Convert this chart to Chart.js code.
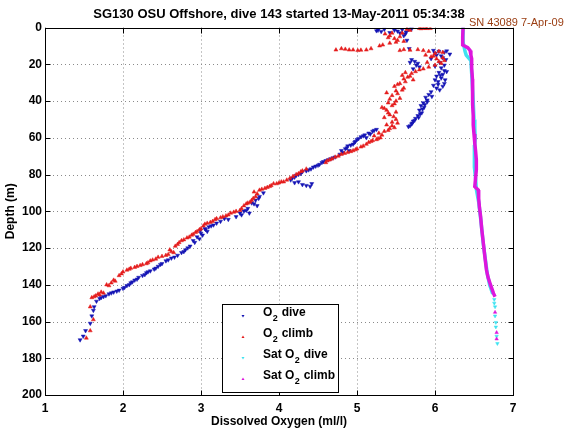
<!DOCTYPE html>
<html lang="en">
<head>
  <meta charset="UTF-8" />
  <title>SG130 dive 143 dissolved oxygen</title>
  <script src="https://cdn.jsdelivr.net/npm/chart.js"></script>
  <style>
    html, body { margin: 0; padding: 0; background: #ffffff; }
    #wrap { width: 570px; height: 430px; position: relative; }
  </style>
</head>
<body>
  <div id="wrap"><canvas id="o2Chart"></canvas></div>

  <script>
    const titleText = "SG130 OSU Offshore, dive 143 started 13-May-2011 05:34:38";
    const serialText = "SN 43089 7-Apr-09";
    const seriesNames = ["O\u2082 dive", "O\u2082 climb", "Sat O\u2082 dive", "Sat O\u2082 climb"];
    const xTicks = [1, 2, 3, 4, 5, 6, 7];
    const depthTicks = [0, 20, 40, 60, 80, 100, 120, 140, 160, 180, 200];

    // O2 dive (blue, down triangles)
    const diveO2 = [5.27, 5.31, 5.25, 5.48, 5.52, 5.58, 5.63, 5.55, 5.66, 5.60, 5.64, 5.67,
      5.98, 6.05, 6.12, 6.19, 6.02, 6.10, 5.95, 5.70, 5.74, 5.78, 5.80, 5.72,
      6.08, 6.12, 6.05, 6.10, 6.02, 6.08, 6.00, 6.04, 6.12, 5.98, 6.02, 6.06, 5.95, 5.92,
      5.88, 5.90, 5.85, 5.82, 5.86, 5.80, 5.83, 5.78, 5.75, 5.72, 5.70, 5.68,
      5.25, 5.20, 5.15, 5.10, 5.05, 5.12, 5.00, 4.97, 4.95, 4.88, 4.85, 4.90, 4.82,
      4.72, 4.66, 4.60, 4.55, 4.50, 4.44, 4.38, 4.30, 4.25, 4.20, 4.15, 4.20, 4.30, 4.40,
      3.75, 3.70, 3.65, 3.72, 3.60, 3.55, 3.62, 3.52, 3.30, 3.25,
      3.16, 3.10, 3.05, 2.99, 3.08, 3.02, 2.98, 2.92, 2.86, 2.80, 2.75, 2.70, 2.62, 2.55,
      2.50, 2.45, 2.40, 2.35, 2.30, 2.25, 2.20, 2.15, 2.10, 2.05, 2.00, 1.95, 1.88, 1.82,
      1.75, 1.70, 1.66, 1.63, 1.62, 1.60, 1.58, 1.52, 1.49, 1.45,
      5.35, 5.42, 5.70, 5.62, 6.15, 6.00, 6.08, 6.14, 6.06, 6.12, 6.00, 6.15, 6.07, 6.13,
      6.04, 6.10, 5.76, 5.68, 5.96, 5.90, 5.87, 5.84, 5.81, 5.79, 5.74, 5.71, 5.66,
      5.22, 5.17, 5.08, 5.02, 4.98, 4.92, 4.87, 4.80, 4.78,
      4.69, 4.63, 4.57, 4.52, 4.47, 4.41, 4.35, 4.28, 4.22, 4.17, 4.25, 4.35, 4.42,
      3.80, 3.74, 3.68, 3.58, 3.50, 3.45, 3.35, 3.20,
      3.13, 3.06, 3.00, 2.95, 2.90, 2.83, 2.78, 2.66, 2.58, 2.48, 2.42, 2.32, 2.28, 2.18,
      2.12, 2.08, 2.02, 1.92, 1.85, 1.78, 1.72];
    const diveDepth = [1.5, 2.2, 1.8, 1.5, 2.0, 1.2, 2.5, 3.0, 1.0, 4.5, 7.0, 11.5,
      12.5, 13.0, 13.5, 14.5, 15.0, 16.5, 17.0, 17.5, 18.5, 19.5, 21.5, 22.5,
      22.0, 23.5, 24.5, 25.5, 26.5, 27.5, 28.5, 29.5, 30.5, 31.5, 33.0, 34.0, 35.0, 36.5,
      38.0, 39.5, 41.0, 42.5, 43.5, 45.0, 46.5, 48.0, 49.5, 51.0, 52.5, 53.5,
      55.5, 56.5, 57.5, 58.5, 59.5, 60.0, 61.0, 62.5, 63.5, 64.5, 66.0, 67.0, 68.0,
      70.5, 71.5, 72.5, 73.5, 75.0, 76.0, 77.5, 78.5, 80.0, 81.5, 83.0, 84.5, 85.5, 86.5,
      92.0, 94.0, 95.5, 97.0, 98.5, 100.0, 101.0, 102.0, 104.0, 105.5,
      107.5, 108.5, 109.5, 110.5, 111.0, 113.0, 115.0, 117.0, 119.0, 121.0, 122.5, 124.0, 125.5, 127.0,
      128.5, 130.0, 131.5, 132.5, 133.5, 135.0, 136.0, 137.5, 139.0, 140.5, 142.0, 143.0, 144.0, 145.0,
      146.5, 147.5, 149.0, 152.0, 154.0, 157.0, 161.0, 165.0, 168.0, 170.0,
      1.0, 2.8, 0.8, 3.5, 12.8, 14.0, 15.5, 17.5, 19.0, 20.5, 21.0, 24.0, 26.0, 28.5,
      31.0, 32.0, 20.5, 19.0, 37.5, 40.5, 42.0, 44.5, 47.0, 49.0, 50.5, 52.0, 54.0,
      56.0, 58.0, 59.0, 60.5, 62.0, 64.0, 65.5, 67.0, 69.0,
      71.0, 72.0, 73.0, 74.5, 75.5, 77.0, 78.0, 79.5, 80.5, 82.0, 84.0, 86.0, 85.0,
      90.0, 93.0, 96.0, 99.5, 101.0, 103.0, 104.5, 106.5,
      108.0, 110.0, 112.0, 114.0, 116.0, 120.0, 122.0, 125.0, 126.5, 129.0, 131.0, 133.0, 134.5, 137.0,
      138.5, 140.0, 141.5, 143.5, 144.5, 146.0, 147.0];

    // O2 climb (red, up triangles)
    const climbO2 = [1.53, 1.58, 1.62, 1.58, 1.60, 1.65, 1.70, 1.75, 1.79, 1.85, 1.88, 1.95,
      2.00, 2.05, 2.10, 2.18, 2.25, 2.30, 2.35, 2.42, 2.50, 2.58, 2.65, 2.60, 2.67, 2.72,
      2.78, 2.85, 2.90, 2.95, 3.00, 3.03, 3.08, 3.15, 3.20, 3.28, 3.35, 3.42, 3.50, 3.55,
      3.60, 3.65, 3.70, 3.68, 3.75, 3.82, 3.88, 3.93, 4.00, 4.06, 4.10, 4.18, 4.25, 4.30, 4.35,
      4.60, 4.65, 4.72, 4.80, 4.88, 4.95, 5.00, 5.05, 5.12, 5.18, 5.25, 5.30, 5.22, 5.28,
      5.35, 5.42, 5.48, 5.38, 5.45, 5.50, 5.35, 5.42, 5.50, 5.38, 5.32, 5.45, 5.40, 5.50,
      5.55, 5.45, 5.38, 5.50, 5.60, 5.48, 5.55, 5.62, 5.72, 5.65, 5.58, 5.70, 5.75, 5.85,
      5.92, 6.00, 6.08, 6.12, 6.02, 5.95, 5.88, 6.00, 6.10, 5.92, 5.78, 5.68, 5.60, 5.55,
      5.42, 5.33, 5.29, 5.18, 5.12, 5.05, 5.01, 4.95, 4.90, 4.85, 4.80, 4.73,
      5.36, 5.42, 5.48, 5.55, 5.60, 5.50, 5.58, 5.64, 5.68, 5.80, 5.85, 5.90, 5.94,
      1.63, 1.68, 1.72, 1.82, 1.90, 1.98, 2.08, 2.15, 2.22, 2.32, 2.38, 2.45, 2.55, 2.62,
      2.70, 2.75, 2.82, 2.88, 2.93, 2.98, 3.05, 3.12, 3.18, 3.25, 3.32, 3.38, 3.45, 3.52,
      3.58, 3.63, 3.67, 3.72, 3.78, 3.85, 3.90, 3.97, 4.03, 4.14, 4.22, 4.28,
      4.62, 4.68, 4.76, 4.84, 4.92, 4.98, 5.08, 5.15, 5.20, 5.27, 5.32, 5.40, 5.45, 5.52,
      5.47, 5.40, 5.35, 5.48, 5.42, 5.52, 5.58, 5.52, 5.60, 5.68, 5.62, 5.80, 5.90, 6.05,
      6.10, 5.98, 6.05, 5.85, 5.40, 5.45, 5.52, 5.88, 5.82];
    const climbDepth = [169.0, 165.0, 159.0, 152.0, 147.0, 146.0, 145.5, 144.5, 140.0, 139.0, 137.5, 135.0,
      133.0, 132.0, 131.0, 130.0, 129.0, 128.5, 127.0, 126.0, 124.5, 123.5, 122.5, 121.0, 119.0, 117.0,
      115.5, 114.0, 112.5, 111.0, 109.5, 108.0, 106.5, 105.5, 104.0, 103.0, 102.0, 100.5, 99.5, 97.0,
      95.5, 94.0, 92.0, 89.5, 88.5, 87.5, 86.5, 85.0, 84.5, 84.0, 83.0, 81.0, 79.5, 78.0, 77.0,
      73.5, 72.0, 70.5, 69.0, 68.0, 67.0, 66.0, 65.0, 63.5, 62.0, 61.0, 60.0, 59.0, 57.5,
      56.5, 55.0, 54.5, 53.0, 51.5, 50.0, 49.0, 47.5, 46.0, 45.0, 43.5, 42.5, 41.0, 40.0,
      38.5, 37.0, 35.5, 34.5, 33.0, 32.0, 30.5, 29.5, 28.5, 27.0, 26.0, 25.0, 24.0, 22.5,
      21.5, 20.5, 19.5, 18.0, 17.0, 16.0, 15.0, 14.0, 13.5, 13.0, 12.0, 12.3, 12.0, 12.5,
      8.5, 9.5, 10.0, 11.5, 12.2, 12.3, 12.5, 12.2, 12.2, 11.8, 11.5, 12.2,
      3.5, 4.5, 6.0, 5.0, 7.5, 8.0, 3.0, 1.0, 1.5, 0.5, 0.5, 0.5, 0.5,
      146.5, 145.0, 144.0, 140.5, 138.0, 134.0, 131.5, 130.5, 129.5, 128.0, 126.5, 125.0, 124.0, 122.0,
      118.0, 116.0, 114.5, 113.0, 111.5, 110.0, 107.0, 106.0, 104.5, 103.5, 102.5, 101.0, 100.0, 98.5,
      96.0, 95.0, 93.0, 90.5, 88.0, 87.0, 86.0, 85.0, 84.0, 82.0, 80.0, 78.5,
      72.5, 71.5, 70.0, 68.5, 67.5, 66.5, 64.5, 62.5, 61.5, 60.5, 58.5, 56.0, 53.5, 52.0,
      48.5, 46.5, 44.0, 41.5, 39.0, 36.0, 34.0, 31.0, 28.0, 26.5, 24.5, 23.0, 19.0, 18.5,
      16.5, 15.5, 13.0, 12.5, 5.5, 3.0, 7.0, 0.4, 0.6];

    // Saturation O2 dive (cyan)
    const satDiveO2 = [6.36, 6.36, 6.385, 6.40, 6.46, 6.47, 6.48, 6.49, 6.50, 6.51, 6.515, 6.51,
      6.50, 6.51, 6.52, 6.53, 6.56, 6.58, 6.60, 6.62, 6.645, 6.67, 6.70, 6.74, 6.76, 6.76, 6.77,
      6.77, 6.78, 6.78, 6.79, 6.80];
    const satDiveDepth = [0, 8, 13, 15, 18, 25, 32, 40, 50, 55, 60, 64,
      70, 76, 82, 88, 95, 102, 110, 118, 126, 134, 140, 145, 148, 150, 152,
      157, 160.5, 163, 168, 172];

    // Saturation O2 climb (magenta)
    const satClimbO2 = [6.36, 6.355, 6.355, 6.42, 6.45, 6.46, 6.47, 6.47, 6.48, 6.48, 6.485, 6.49,
      6.49, 6.50, 6.51, 6.52, 6.53, 6.53, 6.52, 6.51, 6.555, 6.56, 6.57, 6.585, 6.60, 6.62,
      6.64, 6.66, 6.68, 6.705, 6.72, 6.75, 6.77, 6.77, 6.79, 6.79];
    const satClimbDepth = [0, 5, 9.5, 11, 12.5, 15, 17, 22, 28, 35, 42, 48,
      53, 58, 63, 67, 72, 77.5, 82, 86.6, 88.5, 93, 98, 103, 110, 117.5,
      125, 132, 136, 139.2, 141, 144.7, 146.5, 155, 166, 169.5];

    const FONT = "'Liberation Sans', Arial, Helvetica, sans-serif";
    const pts = (xs, ys) => xs.map((v, i) => ({ x: v, y: ys[i] }));

    // saturation series: connected line down to ~147 m, isolated dots below
    const tailDepth = 147;
    const satLine = (color) => ({
      showLine: true,
      borderColor: color,
      backgroundColor: color,
      borderWidth: 3.5,
      pointBorderWidth: 0.5,
      pointStyle: 'triangle',
      pointRadius: ctx => (ctx.raw && ctx.raw.y > tailDepth ? 2 : 0),
      segment: {
        borderColor: ctx => (ctx.p1.parsed.y > tailDepth ? 'rgba(0,0,0,0)' : color)
      }
    });

    const colors = ['#1414b4', '#e41c1c', '#3ee3f0', '#dd16dd'];

    // background grid, box and inward ticks like the original figure
    const framePlugin = {
      id: 'frame',
      beforeDatasetsDraw(chart) {
        const { ctx, chartArea: a, scales } = chart;
        ctx.save();
        ctx.strokeStyle = '#8a8a8a';
        ctx.lineWidth = 1;
        ctx.setLineDash([1, 3]);
        xTicks.forEach(v => {
          const px = Math.round(scales.x.getPixelForValue(v)) + 0.5;
          ctx.beginPath(); ctx.moveTo(px, a.top); ctx.lineTo(px, a.bottom); ctx.stroke();
        });
        depthTicks.forEach(v => {
          const py = Math.round(scales.y.getPixelForValue(v)) + 0.5;
          ctx.beginPath(); ctx.moveTo(a.left, py); ctx.lineTo(a.right, py); ctx.stroke();
        });
        ctx.restore();
      },
      afterDraw(chart) {
        const { ctx, chartArea: a, scales } = chart;
        ctx.save();
        ctx.strokeStyle = '#000';
        ctx.lineWidth = 1;
        const L = Math.round(a.left) + 0.5, R = Math.round(a.right) + 0.5;
        const T = Math.round(a.top) + 0.5, B = Math.round(a.bottom) + 0.5;
        ctx.strokeRect(L, T, R - L, B - T);
        const tl = 5;
        ctx.beginPath();
        xTicks.forEach(v => {
          const px = Math.round(scales.x.getPixelForValue(v)) + 0.5;
          ctx.moveTo(px, B); ctx.lineTo(px, B - tl);
          ctx.moveTo(px, T); ctx.lineTo(px, T + tl);
        });
        depthTicks.forEach(v => {
          const py = Math.round(scales.y.getPixelForValue(v)) + 0.5;
          ctx.moveTo(L, py); ctx.lineTo(L + tl, py);
          ctx.moveTo(R, py); ctx.lineTo(R - tl, py);
        });
        ctx.stroke();

        // title and serial note
        ctx.fillStyle = '#000';
        ctx.font = 'bold 13px ' + FONT;
        ctx.textAlign = 'center';
        ctx.textBaseline = 'middle';
        ctx.fillText(titleText, (a.left + a.right) / 2, 14);
        ctx.fillStyle = '#9a3d12';
        ctx.font = '11px ' + FONT;
        ctx.textAlign = 'left';
        ctx.textBaseline = 'alphabetic';
        ctx.fillText(serialText, 469, 26);

        // legend box
        const bx = 222.5, by = 304.5, bw = 116, bh = 88;
        ctx.fillStyle = '#fff';
        ctx.fillRect(bx, by, bw, bh);
        ctx.strokeStyle = '#000';
        ctx.strokeRect(bx, by, bw, bh);
        const rows = [316, 337, 358, 379];
        seriesNames.forEach((name, i) => {
          const y = rows[i];
          // marker
          ctx.fillStyle = colors[i];
          ctx.beginPath();
          if (i === 0 || i === 2) {
            ctx.moveTo(241.5, y - 1); ctx.lineTo(244.5, y - 1); ctx.lineTo(243, y + 1.5);
          } else {
            ctx.moveTo(241.5, y + 1); ctx.lineTo(244.5, y + 1); ctx.lineTo(243, y - 1.5);
          }
          ctx.closePath(); ctx.fill();
          // label with subscript 2
          const parts = name.split('\u2082');
          ctx.fillStyle = '#000';
          ctx.textAlign = 'left';
          ctx.font = 'bold 12px ' + FONT;
          let x = 263;
          ctx.fillText(parts[0], x, y);
          x += ctx.measureText(parts[0]).width;
          ctx.font = 'bold 9px ' + FONT;
          ctx.fillText('2', x + 0.5, y + 5);
          x += ctx.measureText('2').width + 1;
          ctx.font = 'bold 12px ' + FONT;
          ctx.fillText(parts[1], x, y);
        });
        ctx.restore();
      }
    };

    new Chart(document.getElementById('o2Chart'), {
      type: 'scatter',
      data: {
        datasets: [
          {
            label: seriesNames[3],
            data: pts(satClimbO2, satClimbDepth),
            order: 0,
            ...satLine(colors[3])
          },
          {
            label: seriesNames[2],
            data: pts(satDiveO2, satDiveDepth),
            order: 1,
            ...satLine(colors[2]),
            pointRotation: 180
          },
          {
            label: seriesNames[1],
            data: pts(climbO2, climbDepth),
            order: 2,
            pointStyle: 'triangle',
            pointRadius: 2.3,
            borderWidth: 0.5,
            backgroundColor: colors[1],
            borderColor: colors[1]
          },
          {
            label: seriesNames[0],
            data: pts(diveO2, diveDepth),
            order: 3,
            pointStyle: 'triangle',
            pointRotation: 180,
            pointRadius: 2.3,
            borderWidth: 0.5,
            backgroundColor: colors[0],
            borderColor: colors[0]
          }
        ]
      },
      options: {
        responsive: true,
        maintainAspectRatio: false,
        animation: false,
        devicePixelRatio: 1,
        layout: { padding: { top: 27.5, right: 57, bottom: 0, left: 0 } },
        plugins: {
          legend: { display: false },
          title: { display: false },
          tooltip: { enabled: false }
        },
        scales: {
          x: {
            type: 'linear',
            min: 1,
            max: 7,
            afterBuildTicks: s => { s.ticks = xTicks.map(v => ({ value: v })); },
            afterFit: s => { s.height = 35; },
            grid: { display: false, drawTicks: false, tickLength: 0 },
            border: { display: false },
            ticks: {
              color: '#000',
              padding: 6,
              font: { family: FONT, size: 12, weight: 'bold' }
            },
            title: {
              display: true,
              text: 'Dissolved Oxygen (ml/l)',
              color: '#000',
              padding: { top: 0, bottom: 1 },
              font: { family: FONT, size: 12, weight: 'bold' }
            }
          },
          y: {
            type: 'linear',
            reverse: true,
            min: 0,
            max: 200,
            afterBuildTicks: s => { s.ticks = depthTicks.map(v => ({ value: v })); },
            afterFit: s => { s.width = 45; },
            grid: { display: false, drawTicks: false, tickLength: 0 },
            border: { display: false },
            ticks: {
              color: '#000',
              padding: 3,
              font: { family: FONT, size: 12, weight: 'bold' }
            },
            title: {
              display: true,
              text: 'Depth (m)',
              color: '#000',
              padding: { top: 3.5, bottom: 0 },
              font: { family: FONT, size: 12, weight: 'bold' }
            }
          }
        }
      },
      plugins: [framePlugin]
    });
  </script>
</body>
</html>
